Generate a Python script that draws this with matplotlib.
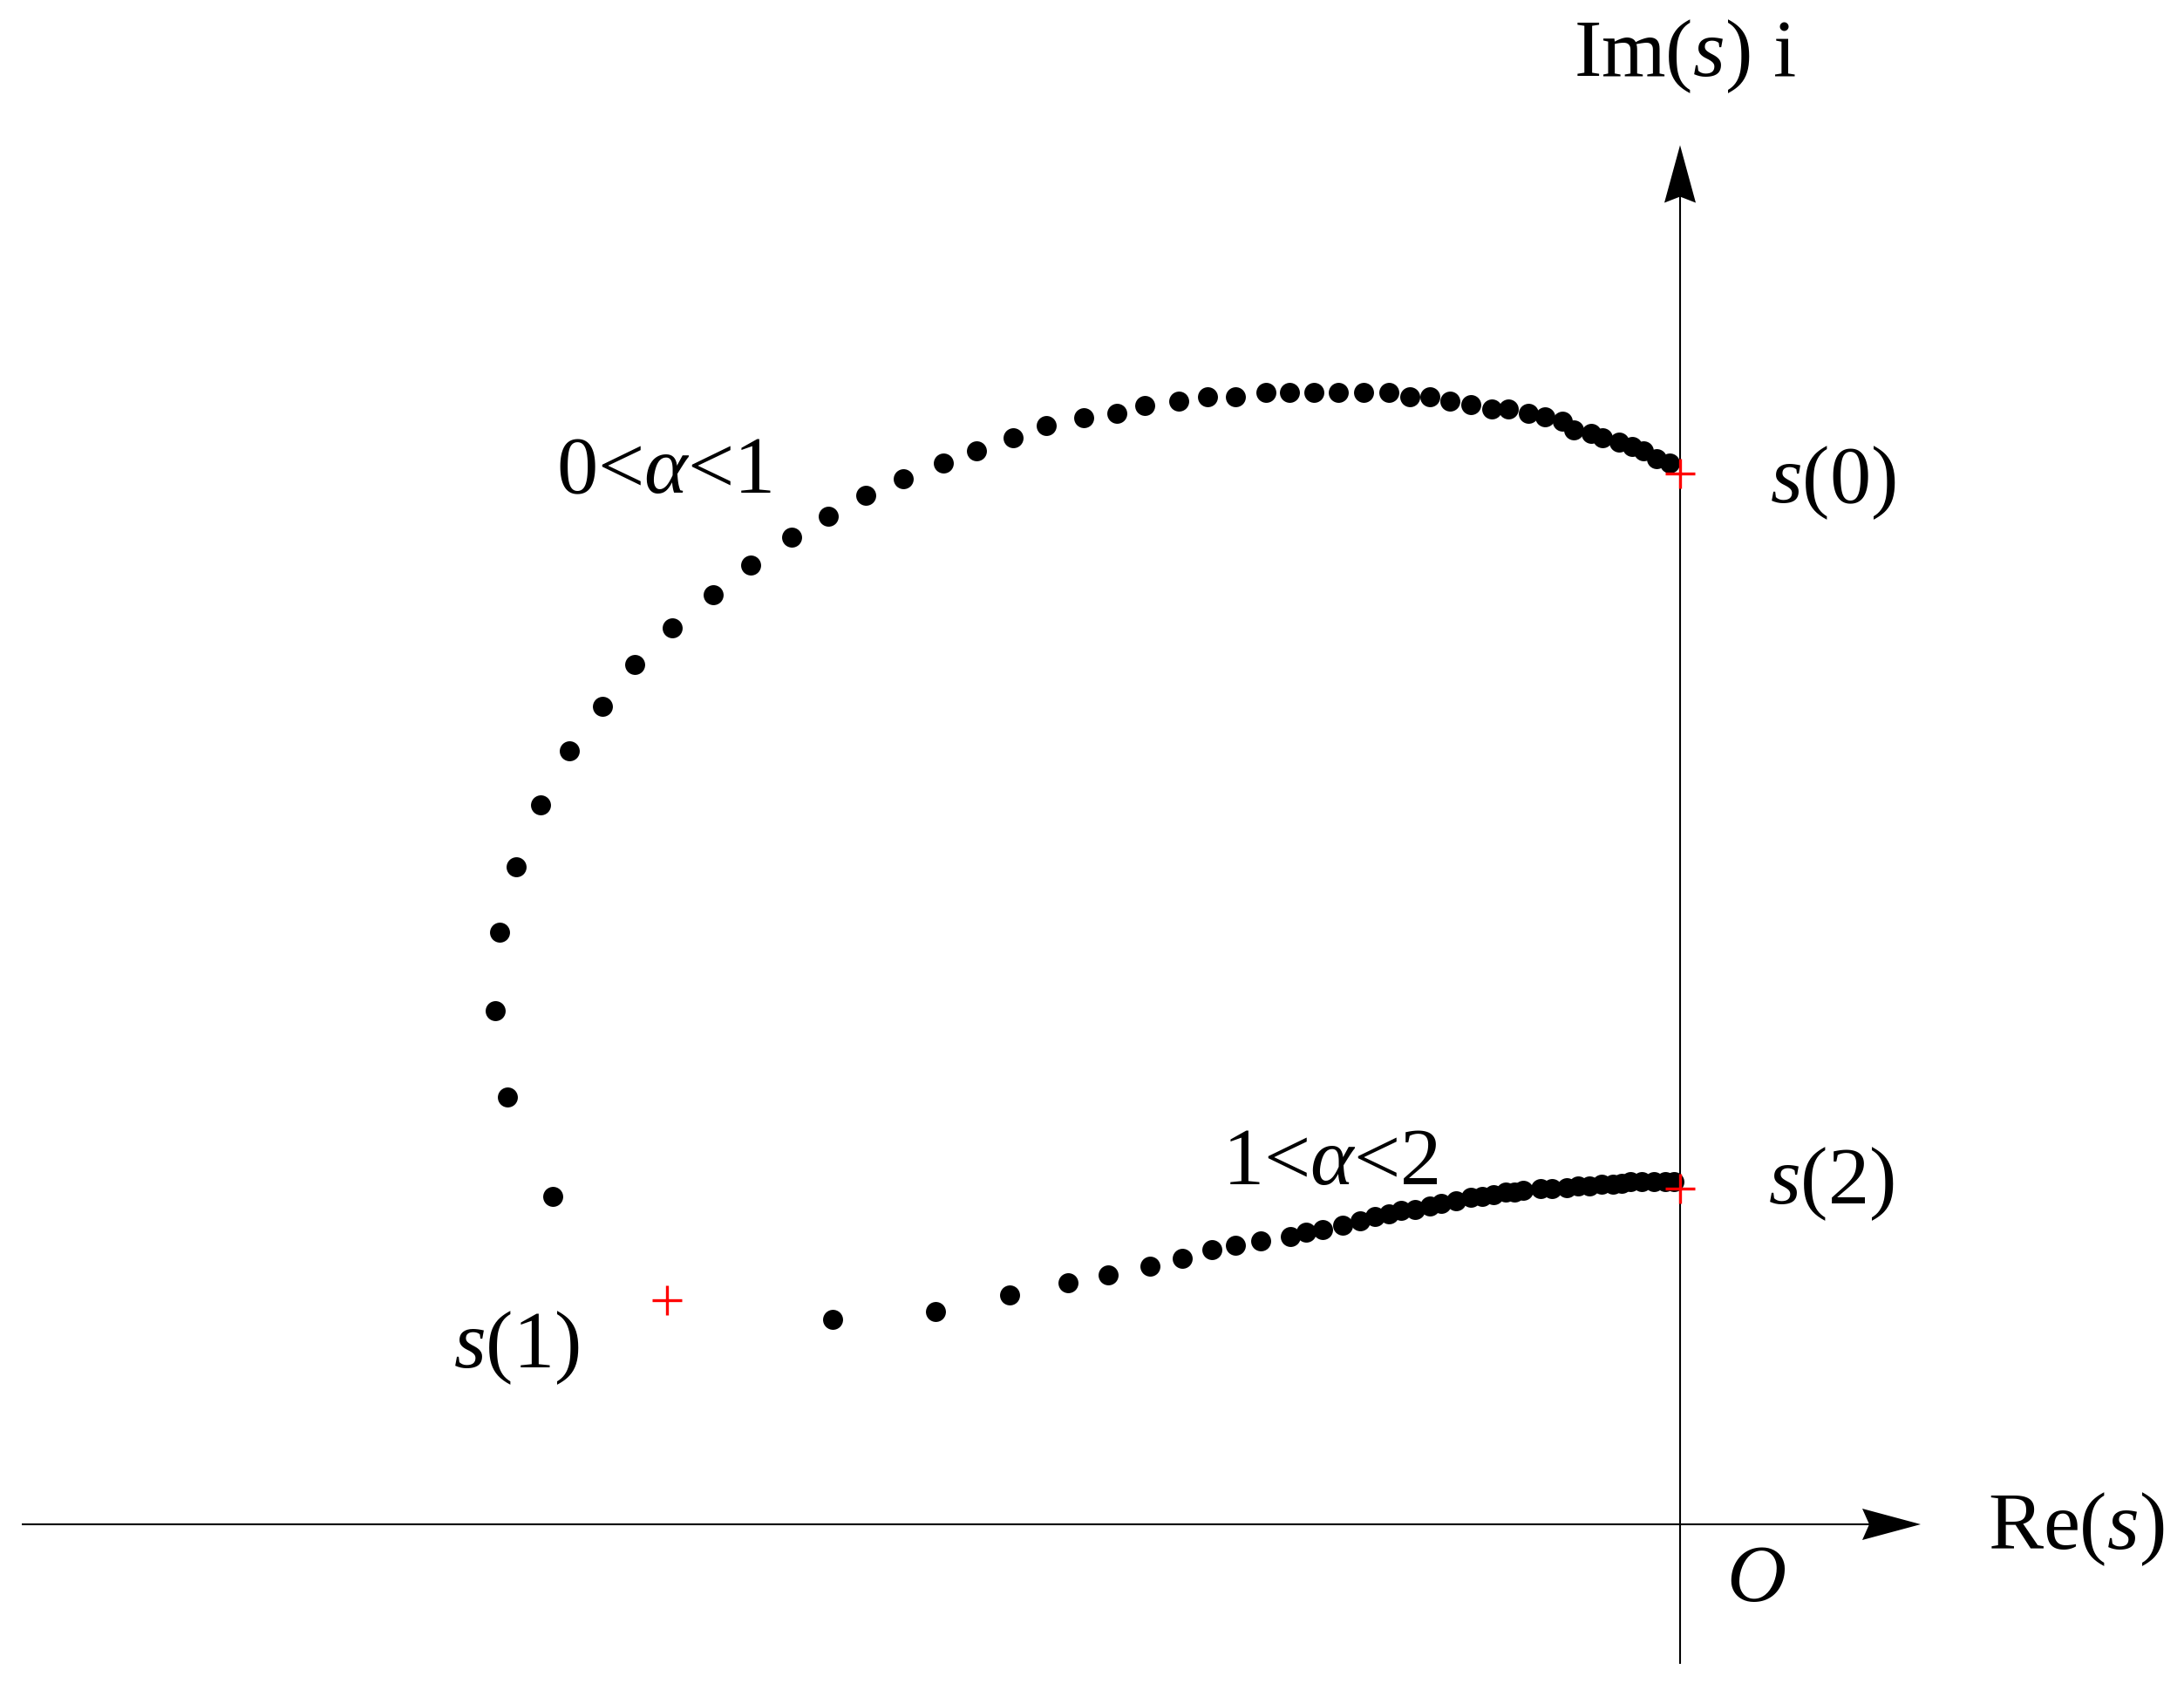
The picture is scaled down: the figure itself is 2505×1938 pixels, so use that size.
import matplotlib
matplotlib.use("Agg")
import matplotlib.pyplot as plt
from matplotlib.patches import Polygon

plt.rcParams['font.family'] = ['Liberation Serif', 'DejaVu Serif']
plt.rcParams['mathtext.fontset'] = 'custom'
plt.rcParams['mathtext.rm'] = 'Liberation Serif'
plt.rcParams['mathtext.it'] = 'Liberation Serif:italic'

# ---- data (arbitrary units in the complex s-plane) ----
# branch 0 < alpha < 1 : from near s(1) up to s(0)
upper_re = [-12.93, -13.45, -13.59, -13.54, -13.35, -13.07, -12.74, -12.36, -11.99, -11.56,
            -11.09, -10.66, -10.19, -9.77, -9.34, -8.91, -8.45, -8.07, -7.65, -7.27,
            -6.84, -6.46, -6.14, -5.75, -5.42, -5.10, -4.75, -4.48, -4.20, -3.92,
            -3.63, -3.34, -3.10, -2.87, -2.64, -2.40, -2.16, -1.97, -1.74, -1.55,
            -1.35, -1.22, -1.02, -0.89, -0.70, -0.55, -0.42, -0.27, -0.12]
upper_im = [3.76, 4.90, 5.89, 6.79, 7.54, 8.25, 8.87, 9.38, 9.86, 10.28,
            10.66, 11.00, 11.32, 11.56, 11.80, 11.99, 12.17, 12.31, 12.46, 12.60,
            12.69, 12.74, 12.83, 12.88, 12.93, 12.93, 12.98, 12.98, 12.98, 12.98,
            12.98, 12.98, 12.93, 12.93, 12.88, 12.84, 12.79, 12.79, 12.74, 12.70,
            12.65, 12.55, 12.51, 12.46, 12.41, 12.36, 12.31, 12.22, 12.17]

# branch 1 < alpha < 2 : from near s(1) over to s(2)
lower_re = [-9.72, -8.54, -7.69, -7.02, -6.56, -6.08, -5.71, -5.37, -5.10, -4.81,
            -4.47, -4.29, -4.10, -3.87, -3.67, -3.50, -3.34, -3.20, -3.04, -2.87,
            -2.74, -2.57, -2.40, -2.27, -2.14, -2.00, -1.90, -1.80, -1.60, -1.47,
            -1.30, -1.17, -1.04, -0.90, -0.77, -0.67, -0.57, -0.44, -0.30, -0.17, -0.07]
lower_im = [2.35, 2.44, 2.63, 2.77, 2.86, 2.96, 3.05, 3.15, 3.20, 3.25,
            3.30, 3.35, 3.38, 3.43, 3.48, 3.53, 3.56, 3.60, 3.61, 3.65,
            3.68, 3.71, 3.75, 3.76, 3.78, 3.81, 3.81, 3.83, 3.85, 3.85,
            3.86, 3.88, 3.88, 3.90, 3.90, 3.91, 3.93, 3.93, 3.93, 3.93, 3.93]

# special points s(0), s(1), s(2)
mark_labels = ['0', '1', '2']
mark_re = [0.0, -11.62, 0.0]
mark_im = [12.05, 2.57, 3.85]

branch_labels = [r'0<$\alpha$<1', r'1<$\alpha$<2']

# ---- figure ----
fig = plt.figure(figsize=(25.05, 19.38), dpi=100)
ax = fig.add_axes([0, 0, 1, 1])
ax.set_xlim(-19.27, 5.78)
ax.set_ylim(-1.90, 17.48)
ax.axis('off')

FS = 68
lw_axis = 1.5

# axes lines
ax.plot([-19.02, 2.70], [0, 0], color='black', lw=lw_axis, zorder=1, solid_capstyle='butt')
ax.plot([0, 0], [-1.60, 15.75], color='black', lw=lw_axis, zorder=1, solid_capstyle='butt')

# stealth-style arrowheads
hx_tip = 2.76
ax.add_patch(Polygon([[hx_tip, 0], [hx_tip - 0.67, 0.18], [hx_tip - 0.59, 0],
                      [hx_tip - 0.67, -0.18]], closed=True, color='black', lw=0, zorder=2))
vy_tip = 15.815
ax.add_patch(Polygon([[0, vy_tip], [0.18, vy_tip - 0.66], [0, vy_tip - 0.59],
                      [-0.18, vy_tip - 0.66]], closed=True, color='black', lw=0, zorder=2))

# data points
ax.plot(upper_re, upper_im, 'o', color='black', markersize=16.5, mew=0, zorder=3)
ax.plot(lower_re, lower_im, 'o', color='black', markersize=16.5, mew=0, zorder=3)

# special points
ax.plot(mark_re, mark_im, '+', color='red', markersize=25, mew=2.4, zorder=4)

# labels
ax.text(-1.22, 16.61, r'Im($s$) i', fontsize=FS, ha='left', va='baseline')
ax.text(3.53, -0.285, r'Re($s$)', fontsize=FS, ha='left', va='baseline')
ax.text(0.53, -0.88, r'$O$', fontsize=FS, ha='left', va='baseline')

ax.text(1.03, 11.72, r'$s$(' + mark_labels[0] + ')', fontsize=FS, ha='left', va='baseline')
ax.text(-14.07, 1.80, r'$s$(' + mark_labels[1] + ')', fontsize=FS, ha='left', va='baseline')
ax.text(1.015, 3.68, r'$s$(' + mark_labels[2] + ')', fontsize=FS, ha='left', va='baseline')

ax.text(-12.89, 11.83, branch_labels[0], fontsize=FS, ha='left', va='baseline')
ax.text(-5.25, 3.90, branch_labels[1], fontsize=FS, ha='left', va='baseline')

fig.savefig('out.png', dpi=100, facecolor='white')
